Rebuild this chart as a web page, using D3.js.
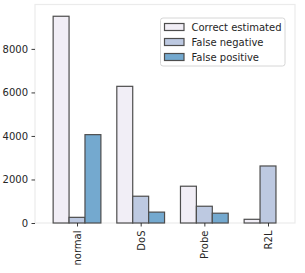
<!DOCTYPE html>
<html><head><meta charset="utf-8">
<script src="https://cdn.jsdelivr.net/npm/d3@7"></script>
<style>body{margin:0;background:#fff}svg{display:block}</style>
</head><body>
<script>
const categories = ["normal", "DoS", "Probe", "R2L"];
const seriesNames = ["Correct estimated", "False negative", "False positive"];
const correctEstimated = [9500, 6280, 1690, 170];
const falseNegative = [260, 1230, 770, 2620];
const falsePositive = [4060, 500, 450, 0];
const yTicks = [0, 2000, 4000, 6000, 8000];
const colors = ["#f1eef6", "#bdc9e1", "#74a9cf"];

const series = [correctEstimated, falseNegative, falsePositive];
const W = 305, H = 273;
const L = 35, R = 295, T = 4.5, B = 223;
const svg = d3.select("body").append("svg").attr("width", W).attr("height", H)
  .style("font-family", "DejaVu Sans, sans-serif");

const x = d3.scaleLinear().domain([-0.66, 3.424]).range([L, R]);
const y = d3.scaleLinear().domain([0, 10040]).range([B, T]);
const bw = 0.25;

// frame
svg.append("rect").attr("x", L).attr("y", T).attr("width", R - L).attr("height", B - T)
  .attr("fill", "none").attr("stroke", "#ebebeb").attr("stroke-width", 1.2);

// bars
series.forEach((vals, s) => {
  svg.append("g").selectAll("rect").data(vals.map((v, i) => ({v, i})).filter(d => d.v > 0))
    .join("rect")
    .attr("x", d => x(d.i + (s - 1) * bw - bw / 2))
    .attr("width", d => x(bw) - x(0))
    .attr("y", d => y(d.v))
    .attr("height", d => y(0) - y(d.v))
    .attr("fill", colors[s]).attr("stroke", "#4d4d4d").attr("stroke-width", 1.2);
});

// y axis
const ya = svg.append("g").attr("transform", `translate(${L},0)`)
  .call(d3.axisLeft(y).tickValues(yTicks).tickSize(3.5).tickPadding(3.5).tickFormat(d3.format("d")));
ya.select(".domain").remove();
ya.selectAll("line").attr("stroke", "#262626").attr("stroke-width", 0.9);
ya.selectAll("text").attr("fill", "#262626").style("font-size", "10px").style("font-family", "DejaVu Sans");

// x axis
const xa = svg.append("g").attr("transform", `translate(0,${B})`)
  .call(d3.axisBottom(x).tickValues(d3.range(categories.length)).tickSize(3.5).tickFormat(i => categories[i]));
xa.select(".domain").remove();
xa.selectAll("line").attr("stroke", "#262626").attr("stroke-width", 0.9);
xa.selectAll("text").attr("fill", "#262626").style("font-size", "10px").style("font-family", "DejaVu Sans")
  .attr("transform", "rotate(-90)").attr("x", -7.5).attr("y", 0).attr("dy", "0.35em")
  .attr("text-anchor", "end");

// legend
const lg = svg.append("g");
lg.append("rect").attr("x", 160.5).attr("y", 18).attr("width", 124.5).attr("height", 48)
  .attr("rx", 2.5).attr("fill", "#fff").attr("fill-opacity", 0.8)
  .attr("stroke", "#cccccc").attr("stroke-width", 0.8);
seriesNames.forEach((n, s) => {
  const cy = 27 + s * 15;
  lg.append("rect").attr("x", 164.5).attr("y", cy - 3.5).attr("width", 19.5).attr("height", 7)
    .attr("fill", colors[s]).attr("stroke", "#4d4d4d").attr("stroke-width", 1.2);
  lg.append("text").attr("x", 191.5).attr("y", cy).attr("dy", "0.35em")
    .attr("fill", "#262626").style("font-size", "10px").text(n);
});
</script>
</body></html>
